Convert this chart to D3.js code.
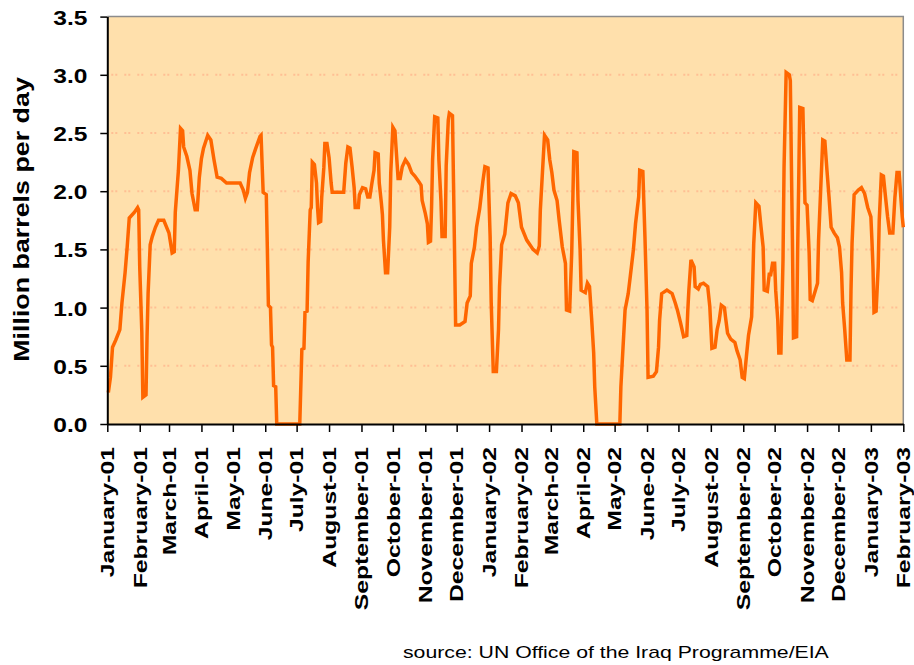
<!DOCTYPE html>
<html>
<head>
<meta charset="utf-8">
<script src="https://cdn.jsdelivr.net/npm/d3@7"></script>
<style>
  body { margin: 0; background: #fff; }
  svg text { font-family: "Liberation Sans", Arial, sans-serif; fill: #000; }
</style>
</head>
<body>
<div id="chart"></div>
<script>
var width = 914,
  height = 665;

var startDate = new Date(Date.UTC(2001, 0, 1)),
  endDate = new Date(Date.UTC(2003, 1, 1));

// days since 1 January 2001
var days = [
  1, 3, 5, 8, 12, 14, 17, 19, 21, 26, 29, 30, 31, 33, 34, 37, 38, 39, 41, 43,
  46, 49, 54, 59, 62, 64, 65, 68, 70, 72, 73, 76, 79, 81, 84, 86, 88, 90, 92, 96,
  99, 102, 105, 109, 114, 120, 127, 130, 132, 134, 136, 139, 142, 146, 147, 149, 152, 153, 154, 156,
  157, 158, 159, 161, 162, 184, 185, 186, 188, 189, 191, 192, 194, 195, 196, 198, 200, 201, 202, 204,
  205, 207, 208, 210, 212, 214, 215, 226, 228, 230, 232, 234, 236, 237, 240, 241, 244, 247, 249, 251,
  253, 255, 256, 259, 260, 262, 263, 264, 266, 268, 270, 271, 273, 275, 276, 278, 280, 282, 285, 288,
  291, 294, 298, 300, 301, 304, 306, 307, 309, 310, 311, 313, 316, 317, 319, 320, 323, 324, 326, 327,
  330, 331, 332, 333, 337, 342, 344, 347, 348, 351, 353, 356, 359, 361, 364, 365, 366, 367, 369, 372,
  374, 375, 377, 380, 383, 386, 390, 393, 396, 401, 407, 411, 413, 414, 416, 418, 421, 423, 425, 427,
  430, 432, 435, 438, 439, 442, 444, 445, 446, 449, 450, 452, 453, 457, 459, 461, 463, 465, 466, 468,
  490, 491, 493, 495, 498, 500, 503, 505, 508, 509, 512, 514, 516, 517, 522, 525, 527, 528, 530, 535,
  540, 543, 545, 548, 551, 554, 555, 556, 558, 561, 562, 565, 567, 570, 574, 576, 578, 581, 583, 585,
  587, 590, 591, 593, 596, 600, 602, 605, 607, 609, 611, 613, 616, 617, 618, 620, 623, 625, 627, 628,
  631, 633, 634, 636, 638, 639, 641, 642, 644, 646, 647, 649, 652, 653, 654, 655, 656, 659, 660, 661,
  662, 665, 666, 667, 669, 671, 672, 674, 676, 679, 680, 682, 684, 686, 688, 690, 692, 695, 698, 700,
  702, 703, 705, 707, 710, 711, 712, 714, 718, 721, 724, 727, 730, 731, 732, 733, 735, 737, 738, 740,
  742, 744, 746, 748, 751, 753, 755, 757, 759, 760, 761
];

// million barrels per day
var production = [
  0.27, 0.40, 0.66, 0.72, 0.81, 1.04, 1.30, 1.52, 1.77, 1.82, 1.86, 1.84, 1.35, 0.79, 0.23, 0.25, 0.75, 1.12, 1.54, 1.61,
  1.69, 1.75, 1.75, 1.64, 1.47, 1.48, 1.82, 2.18, 2.54, 2.52, 2.38, 2.30, 2.18, 1.98, 1.84, 1.84, 2.12, 2.28, 2.37, 2.48,
  2.44, 2.27, 2.12, 2.11, 2.07, 2.07, 2.07, 2.01, 1.94, 1.99, 2.16, 2.29, 2.37, 2.47, 2.48, 1.99, 1.97, 1.51, 1.02, 1.00,
  0.68, 0.66, 0.33, 0.32, 0.00, 0.00, 0.32, 0.64, 0.65, 0.96, 0.97, 1.39, 1.84, 1.86, 2.25, 2.23, 2.07, 1.86, 1.73, 1.74,
  1.95, 2.20, 2.41, 2.41, 2.29, 2.07, 1.99, 1.99, 2.24, 2.38, 2.37, 2.21, 2.03, 1.86, 1.86, 1.97, 2.03, 2.02, 1.95, 1.95,
  2.07, 2.18, 2.33, 2.32, 2.07, 1.90, 1.80, 1.58, 1.30, 1.30, 1.69, 2.16, 2.55, 2.52, 2.38, 2.11, 2.11, 2.21, 2.27, 2.23,
  2.16, 2.13, 2.08, 2.05, 1.92, 1.81, 1.72, 1.56, 1.57, 1.86, 2.27, 2.64, 2.63, 2.27, 1.91, 1.61, 1.61, 2.22, 2.61, 2.67,
  2.65, 2.07, 1.47, 0.85, 0.85, 0.88, 1.04, 1.10, 1.38, 1.52, 1.69, 1.85, 2.08, 2.21, 2.20, 1.90, 1.61, 1.05, 0.45, 0.45,
  0.81, 1.18, 1.54, 1.63, 1.90, 1.98, 1.96, 1.90, 1.69, 1.58, 1.50, 1.47, 1.53, 1.84, 2.16, 2.48, 2.44, 2.27, 2.16, 2.01,
  1.92, 1.75, 1.52, 1.38, 0.98, 0.97, 1.47, 1.90, 2.34, 2.33, 1.92, 1.50, 1.15, 1.13, 1.21, 1.18, 0.91, 0.61, 0.32, 0.00,
  0.00, 0.32, 0.65, 0.98, 1.12, 1.27, 1.50, 1.72, 1.95, 2.18, 2.17, 1.61, 0.98, 0.40, 0.41, 0.45, 0.66, 0.89, 1.12, 1.15,
  1.12, 1.04, 0.98, 0.87, 0.75, 0.76, 0.98, 1.15, 1.41, 1.35, 1.18, 1.16, 1.20, 1.21, 1.18, 1.01, 0.65, 0.66, 0.81, 0.89,
  1.02, 1.00, 0.92, 0.78, 0.73, 0.70, 0.63, 0.55, 0.40, 0.39, 0.58, 0.76, 0.92, 1.22, 1.55, 1.90, 1.87, 1.69, 1.52, 1.15,
  1.14, 1.30, 1.27, 1.38, 1.38, 1.15, 0.89, 0.61, 0.61, 1.41, 2.21, 3.02, 3.00, 2.95, 2.24, 1.58, 0.74, 0.75, 1.50, 2.07,
  2.72, 2.71, 2.29, 1.90, 1.88, 1.47, 1.07, 1.06, 1.12, 1.21, 1.58, 2.01, 2.44, 2.43, 2.18, 1.95, 1.69, 1.64, 1.60, 1.52,
  1.30, 1.04, 0.81, 0.55, 0.55, 1.15, 1.55, 1.97, 2.01, 2.03, 1.98, 1.86, 1.78, 1.58, 1.35, 0.96, 0.97, 1.35, 1.75, 2.14,
  2.13, 1.95, 1.78, 1.64, 1.64, 1.95, 2.16, 2.16, 1.90, 1.78, 1.69
];

var yTicks = [0, 0.5, 1.0, 1.5, 2.0, 2.5, 3.0, 3.5];

var monthLabels = [
  "January-01", "February-01", "March-01", "April-01", "May-01", "June-01",
  "July-01", "August-01", "September-01", "October-01", "November-01", "December-01",
  "January-02", "February-02", "March-02", "April-02", "May-02", "June-02",
  "July-02", "August-02", "September-02", "October-02", "November-02", "December-02",
  "January-03", "February-03"
];

var yTitle = "Million barrels per day";
var sourceNote = "source: UN Office of the Iraq Programme/EIA";

// plot box
var plotLeft = 107.3, plotRight = 903.3, plotTop = 16.6, plotBottom = 424;

var x = d3.scaleUtc().domain([startDate, endDate]).range([plotLeft, plotRight]);
var y = d3.scaleLinear().domain([0, 3.5]).range([plotBottom, plotTop]);

var data = days.map(function (d, i) {
  return { date: d3.utcDay.offset(startDate, d), value: production[i] };
});
var monthDates = d3.utcMonth.range(startDate, d3.utcDay.offset(endDate, 1));

var svg = d3
  .select("#chart")
  .append("svg")
  .attr("width", width)
  .attr("height", height);

// plot background
svg
  .append("rect")
  .attr("x", plotLeft)
  .attr("y", plotTop)
  .attr("width", plotRight - plotLeft)
  .attr("height", plotBottom - plotTop)
  .attr("fill", "#ffe0ac");

// dotted grid lines
svg
  .append("g")
  .selectAll("line")
  .data(yTicks.filter(function (d) { return d > 0 && d < 3.5; }))
  .enter()
  .append("line")
  .attr("x1", plotLeft + 4)
  .attr("x2", plotRight)
  .attr("y1", function (d) { return y(d); })
  .attr("y2", function (d) { return y(d); })
  .attr("stroke", "#ffbf94")
  .attr("stroke-width", 2)
  .attr("stroke-dasharray", "2,2,2,7");

// grey frame top + right
svg
  .append("path")
  .attr("d", "M" + plotLeft + "," + plotTop + "H" + plotRight + "V" + plotBottom)
  .attr("fill", "none")
  .attr("stroke", "#8c8c8c")
  .attr("stroke-width", 1.5);

// the production line
var line = d3
  .line()
  .x(function (d) { return x(d.date); })
  .y(function (d) { return y(d.value); });

svg
  .append("path")
  .datum(data)
  .attr("d", line)
  .attr("fill", "none")
  .attr("stroke", "#ff6600")
  .attr("stroke-width", 3.5)
  .attr("stroke-linejoin", "miter");

// y axis
var yAxis = svg
  .append("g")
  .attr("transform", "translate(" + plotLeft + ",0)")
  .call(
    d3.axisLeft(y)
      .tickValues(yTicks)
      .tickFormat(d3.format(".1f"))
      .tickSize(7)
      .tickSizeOuter(0)
  );
yAxis.select(".domain").attr("stroke", "#000").attr("stroke-width", 2);
yAxis.selectAll(".tick line").attr("stroke", "#000").attr("stroke-width", 1.5);
yAxis
  .selectAll(".tick text")
  .attr("x", -17)
  .attr("dy", "0.36em")
  .attr("transform", "scale(1.17,1)")
  .style("font-size", "21px")
  .style("font-weight", "bold");

// x axis
var xAxis = svg
  .append("g")
  .attr("transform", "translate(0," + plotBottom + ")")
  .call(
    d3.axisBottom(x)
      .tickValues(monthDates)
      .tickFormat(function (d, i) { return monthLabels[i]; })
      .tickSize(8)
      .tickSizeOuter(0)
  );
xAxis.select(".domain").attr("stroke", "#000").attr("stroke-width", 2);
xAxis.selectAll(".tick line").attr("stroke", "#000").attr("stroke-width", 1.5);
xAxis
  .selectAll(".tick text")
  .attr("x", -23 / 1.3)
  .attr("y", 0)
  .attr("dy", "0.33em")
  .attr("transform", "rotate(-90) scale(1.3,1)")
  .style("text-anchor", "end")
  .style("font-size", "19px")
  .style("font-weight", "bold");

// y title
svg
  .append("text")
  .attr("transform", "translate(29,219.5) rotate(-90) scale(1.22,1)")
  .attr("text-anchor", "middle")
  .style("font-size", "22px")
  .style("font-weight", "bold")
  .text(yTitle);

// source
svg
  .append("text")
  .attr("transform", "translate(403,658) scale(1.25,1)")
  .style("font-size", "17px")
  .text(sourceNote);
</script>
</body>
</html>
